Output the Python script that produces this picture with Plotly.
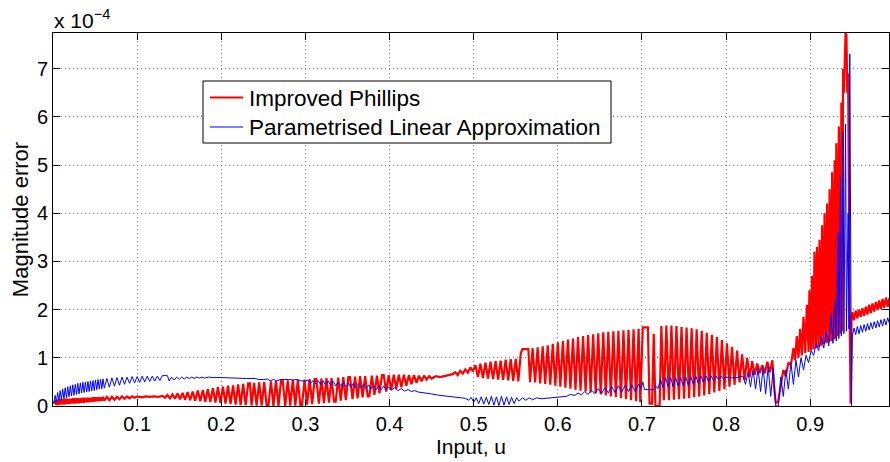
import plotly.graph_objects as go

# Magnitude error values are in units of 1e-4 (axis shows "x 10^-4")
red_name = "Improved Phillips"
blue_name = "Parametrised Linear Approximation"

red_points = [
    (0.001,0.05),(0.0025,0.12),(0.004,0.02),(0.0055,0.13),(0.007,0.02),(0.0085,0.14),(0.010,0.03),(0.0115,0.14),(0.013,0.03),(0.0145,0.15),
    (0.016,0.04),(0.0175,0.15),(0.019,0.04),(0.0205,0.15),(0.022,0.05),(0.0235,0.16),(0.025,0.05),(0.0265,0.16),(0.028,0.06),(0.0295,0.16),
    (0.031,0.06),(0.0325,0.16),(0.034,0.07),(0.0355,0.17),(0.037,0.07),(0.0385,0.17),(0.040,0.08),(0.0415,0.17),(0.043,0.08),(0.0445,0.17),
    (0.046,0.09),(0.0475,0.18),(0.049,0.09),(0.0505,0.18),(0.052,0.10),(0.0535,0.18),(0.055,0.10),(0.0565,0.18),(0.058,0.11),(0.0595,0.19),
    (0.061,0.11),(0.064,0.19),(0.067,0.12),(0.070,0.19),(0.073,0.13),(0.076,0.19),(0.079,0.14),(0.082,0.20),(0.085,0.15),(0.088,0.20),
    (0.091,0.16),(0.094,0.20),(0.097,0.17),(0.100,0.20),(0.105,0.18),(0.110,0.20),(0.115,0.19),(0.120,0.20),(0.125,0.19),(0.130,0.21),
    (0.133,0.17),(0.136,0.23),(0.139,0.16),(0.142,0.24),(0.145,0.15),(0.148,0.26),(0.151,0.14),(0.154,0.27),(0.157,0.13),(0.160,0.29),
    (0.163,0.12),(0.166,0.30),(0.169,0.11),(0.172,0.32),(0.175,0.10),(0.178,0.33),(0.181,0.09),(0.184,0.35),(0.187,0.08),(0.190,0.37),
    (0.193,0.07),(0.196,0.39),(0.199,0.06),(0.202,0.40),(0.205,0.05),(0.208,0.42),(0.211,0.04),(0.214,0.43),(0.217,0.03),
    (0.220,0.45),(0.223,0.02),(0.226,0.46),(0.229,0.02),(0.232,0.47),(0.234,0.47),(0.236,0.01),(0.239,0.48),(0.242,0.01),(0.245,0.49),
    (0.248,0.01),(0.251,0.50),(0.254,0.00),(0.256,0.00),(0.259,0.51),(0.262,0.00),(0.265,0.52),(0.268,0.00),(0.271,0.52),(0.273,0.52),
    (0.276,0.00),(0.279,0.53),(0.282,0.01),(0.285,0.54),(0.288,0.01),(0.291,0.54),(0.294,0.02),(0.296,0.02),(0.299,0.55),(0.302,0.03),
    (0.305,0.56),(0.308,0.04),(0.311,0.56),(0.313,0.56),(0.316,0.05),(0.319,0.57),(0.322,0.06),(0.325,0.58),(0.328,0.07),(0.331,0.58),
    (0.334,0.09),(0.336,0.09),(0.339,0.59),(0.342,0.11),(0.345,0.60),(0.348,0.12),(0.351,0.60),(0.353,0.60),(0.356,0.14),(0.359,0.61),
    (0.362,0.16),(0.365,0.62),(0.368,0.18),(0.371,0.62),(0.374,0.20),(0.376,0.20),(0.379,0.63),(0.382,0.23),(0.385,0.63),(0.388,0.26),
    (0.391,0.64),(0.393,0.64),(0.396,0.30),(0.399,0.64),(0.402,0.33),(0.405,0.65),(0.408,0.36),(0.411,0.65),(0.414,0.39),(0.417,0.65),
    (0.420,0.42),(0.423,0.64),(0.426,0.45),(0.429,0.64),(0.432,0.48),
    (0.435,0.63),(0.438,0.51),(0.441,0.63),(0.444,0.55),(0.447,0.62),(0.450,0.57),(0.455,0.62),(0.460,0.60),(0.465,0.62),(0.470,0.64),
    (0.475,0.66),(0.478,0.70),(0.481,0.64),(0.484,0.73),(0.487,0.67),(0.490,0.76),(0.493,0.69),(0.496,0.80),(0.499,0.72),(0.502,0.85),
    (0.505,0.60),(0.508,0.88),(0.511,0.58),(0.514,0.90),(0.517,0.57),(0.520,0.92),(0.523,0.56),(0.526,0.93),(0.529,0.55),(0.532,0.94),
    (0.535,0.54),(0.538,0.96),(0.541,0.53),(0.544,0.97),(0.547,0.52),(0.550,0.98),(0.553,0.51),(0.556,1.10),(0.558,1.18),(0.565,1.18),
    (0.567,0.50),(0.570,1.20),(0.573,0.49),(0.576,1.22),(0.579,0.47),(0.582,1.24),(0.585,0.46),(0.588,1.26),(0.591,0.44),(0.594,1.29),
    (0.597,0.42),(0.600,1.32),(0.603,0.40),(0.606,1.35),(0.609,0.38),(0.612,1.38),(0.615,0.36),(0.618,1.40),(0.621,0.34),(0.624,1.43),
    (0.627,0.32),(0.630,1.45),(0.633,0.30),(0.636,1.47),(0.639,0.28),(0.642,1.49),(0.645,0.26),(0.648,1.51),(0.651,0.24),(0.654,1.53),
    (0.657,0.22),(0.660,1.54),(0.663,0.20),(0.666,1.55),(0.669,0.18),(0.672,1.56),(0.675,0.16),(0.678,1.57),(0.681,0.14),(0.684,1.58),
    (0.687,0.12),(0.690,1.59),(0.693,0.10),(0.696,1.60),(0.698,0.08),
    (0.701,1.63),(0.707,1.63),(0.709,0.05),(0.712,0.05),(0.714,1.50),(0.716,0.00),(0.721,0.00),(0.723,1.66),(0.726,0.12),(0.729,1.67),
    (0.732,0.12),(0.735,1.67),(0.738,0.13),(0.741,1.66),(0.744,0.14),(0.747,1.64),(0.750,0.15),(0.753,1.63),(0.756,0.16),(0.759,1.61),
    (0.762,0.18),(0.765,1.59),(0.768,0.20),(0.771,1.56),(0.774,0.22),(0.777,1.52),(0.780,0.25),(0.783,1.48),(0.786,0.28),(0.789,1.43),
    (0.792,0.31),(0.795,1.37),(0.798,0.35),(0.801,1.30),(0.804,0.40),(0.807,1.23),(0.810,0.44),(0.813,1.15),(0.816,0.49),(0.819,1.07),
    (0.822,0.54),(0.825,1.00),(0.828,0.60),(0.831,0.93),(0.834,0.65),(0.837,0.88),(0.840,0.68),(0.843,0.85),(0.846,0.68),(0.849,0.92),
    (0.852,0.70),(0.855,0.95),(0.857,0.40),(0.859,0.06),(0.862,0.10),
    (0.865,0.45),(0.868,0.75),(0.871,0.62),(0.874,0.90),(0.877,0.85),(0.880,1.20),(0.882,0.95),(0.884,1.45),(0.886,1.00),(0.888,1.60),
    (0.890,1.05),(0.892,1.85),(0.894,1.10),(0.896,2.10),(0.898,1.12),(0.899,2.40),(0.901,1.15),(0.902,2.70),(0.904,1.18),(0.905,3.20),
    (0.907,1.20),(0.908,3.30),(0.910,1.22),(0.911,3.45),(0.913,1.25),(0.914,3.75),(0.916,1.28),(0.917,4.00),(0.919,1.30),(0.920,4.20),
    (0.922,1.32),(0.923,4.50),(0.925,1.35),(0.926,4.85),(0.928,1.38),(0.929,5.10),(0.930,1.40),(0.931,5.45),(0.933,1.45),(0.934,5.80),
    (0.936,1.50),(0.937,6.30),(0.938,1.55),(0.939,7.00),(0.940,6.50),(0.941,7.60),(0.942,7.75),(0.943,7.70),(0.944,6.50),(0.945,6.90),
    (0.946,3.00),(0.947,1.60),(0.948,0.05),(0.949,1.80),
    (0.950,1.95),(0.952,1.78),(0.954,1.98),(0.956,1.82),(0.958,2.00),(0.960,1.85),(0.962,2.03),(0.964,1.87),(0.966,2.06),(0.968,1.90),
    (0.970,2.10),(0.972,1.93),(0.974,2.13),(0.976,1.96),(0.978,2.16),(0.980,1.99),(0.982,2.19),(0.984,2.01),(0.986,2.22),(0.988,2.04),
    (0.990,2.25),(0.992,2.06),(0.994,2.24),
]

blue_points = [
    (0.001,0.05),(0.0025,0.22),(0.004,0.08),(0.0055,0.28),(0.007,0.10),(0.0085,0.32),(0.010,0.13),(0.0115,0.35),(0.013,0.15),(0.0145,0.38),
    (0.016,0.17),(0.0175,0.40),(0.019,0.19),(0.0205,0.42),(0.022,0.21),(0.0235,0.44),(0.025,0.22),(0.0265,0.45),(0.028,0.24),(0.0295,0.47),
    (0.031,0.25),(0.0325,0.48),(0.034,0.27),(0.0355,0.49),(0.037,0.28),(0.0385,0.50),(0.040,0.29),(0.0415,0.51),(0.043,0.30),(0.0445,0.52),
    (0.046,0.31),(0.0475,0.53),(0.049,0.32),(0.0505,0.54),(0.052,0.34),(0.0535,0.55),(0.055,0.35),(0.0565,0.55),(0.058,0.36),(0.0595,0.56),
    (0.061,0.37),(0.064,0.57),(0.067,0.39),(0.070,0.58),(0.073,0.41),(0.076,0.59),(0.079,0.43),(0.082,0.60),(0.085,0.45),(0.088,0.60),
    (0.091,0.47),(0.094,0.61),(0.097,0.48),(0.100,0.61),(0.103,0.49),(0.106,0.62),(0.109,0.50),(0.112,0.62),(0.115,0.51),(0.118,0.62),
    (0.121,0.52),(0.124,0.62),(0.127,0.53),
    (0.130,0.63),(0.136,0.63),(0.138,0.52),(0.141,0.60),(0.144,0.54),(0.147,0.60),(0.150,0.55),(0.153,0.60),(0.156,0.56),(0.159,0.60),
    (0.162,0.57),(0.165,0.60),(0.168,0.57),(0.171,0.60),(0.174,0.58),(0.177,0.60),(0.180,0.58),(0.185,0.60),(0.190,0.59),(0.200,0.59),
    (0.210,0.58),(0.220,0.58),(0.230,0.57),(0.240,0.57),(0.245,0.55),(0.250,0.55),(0.255,0.56),(0.258,0.52),(0.262,0.55),(0.266,0.52),
    (0.270,0.55),(0.280,0.55),(0.285,0.54),(0.290,0.55),(0.295,0.52),(0.300,0.52),
    (0.303,0.54),(0.306,0.47),(0.309,0.53),(0.312,0.46),(0.315,0.53),(0.318,0.45),(0.321,0.52),(0.324,0.44),(0.327,0.52),(0.330,0.43),
    (0.333,0.51),(0.336,0.42),(0.339,0.50),(0.342,0.41),(0.345,0.49),(0.348,0.40),(0.351,0.48),(0.354,0.39),(0.357,0.47),(0.360,0.38),
    (0.363,0.46),(0.366,0.37),(0.369,0.45),(0.372,0.36),(0.375,0.44),(0.378,0.35),(0.381,0.43),(0.384,0.34),(0.387,0.42),(0.390,0.34),
    (0.393,0.41),(0.396,0.33),(0.399,0.40),(0.402,0.33),(0.406,0.38),(0.410,0.32),(0.414,0.36),(0.418,0.31),(0.422,0.34),(0.426,0.30),
    (0.430,0.32),(0.434,0.29),(0.440,0.28),(0.450,0.25),(0.460,0.22),(0.470,0.20),(0.480,0.18),(0.490,0.16),(0.494,0.12),(0.497,0.18),
    (0.500,0.08),(0.503,0.17),(0.506,0.05),(0.509,0.19),(0.512,0.04),(0.515,0.18),(0.518,0.03),(0.521,0.20),(0.524,0.02),(0.527,0.19),
    (0.530,0.01),(0.533,0.20),(0.536,0.02),(0.539,0.19),(0.542,0.03),(0.545,0.18),(0.548,0.05),(0.551,0.17),(0.554,0.10),(0.558,0.17),
    (0.562,0.12),(0.566,0.17),(0.570,0.13),(0.575,0.17),(0.580,0.15),(0.590,0.17),(0.600,0.18),(0.610,0.20),(0.615,0.24),(0.620,0.22),
    (0.624,0.27),(0.628,0.23),(0.632,0.30),(0.636,0.24),(0.640,0.33),(0.644,0.26),(0.648,0.36),(0.652,0.26),(0.656,0.38),(0.660,0.27),
    (0.664,0.40),(0.668,0.28),(0.672,0.42),(0.676,0.29),(0.680,0.43),(0.684,0.30),(0.688,0.44),(0.692,0.30),(0.696,0.45),(0.699,0.36),
    (0.701,0.50),(0.703,0.34),(0.714,0.34),(0.716,0.42),(0.719,0.36),(0.722,0.55),(0.725,0.38),(0.728,0.60),(0.731,0.40),(0.734,0.60),
    (0.737,0.40),(0.740,0.59),(0.743,0.41),(0.746,0.59),(0.749,0.42),(0.752,0.60),(0.755,0.43),(0.758,0.61),(0.761,0.45),(0.764,0.62),
    (0.767,0.47),(0.770,0.63),(0.773,0.49),(0.776,0.63),(0.779,0.51),(0.782,0.63),(0.785,0.53),(0.788,0.62),(0.791,0.55),(0.794,0.62),
    (0.797,0.56),(0.800,0.60),(0.810,0.58),(0.820,0.62),(0.823,0.45),(0.826,0.70),(0.829,0.40),(0.832,0.75),(0.835,0.35),(0.838,0.78),
    (0.841,0.30),(0.844,0.80),(0.847,0.25),(0.850,0.82),(0.853,0.20),(0.856,0.78),(0.859,0.00),(0.862,0.00),(0.865,0.60),(0.868,0.20),
    (0.871,0.75),(0.874,0.35),(0.877,0.90),(0.880,0.45),(0.883,0.95),(0.886,0.60),(0.889,1.00),(0.892,0.75),(0.895,1.05),(0.898,0.90),
    (0.901,1.15),(0.904,1.05),(0.907,1.30),(0.910,1.15),(0.913,1.45),(0.916,1.20),(0.919,1.55),(0.922,1.25),(0.925,1.90),(0.927,1.30),
    (0.929,2.20),(0.931,1.35),(0.933,3.60),(0.934,1.40),(0.936,4.75),(0.937,1.45),(0.939,5.70),(0.940,1.50),(0.942,5.85),(0.943,1.55),
    (0.945,4.00),(0.946,1.60),(0.947,7.30),(0.948,3.00),(0.949,0.00),(0.950,1.45),(0.952,1.62),(0.954,1.48),(0.956,1.65),(0.958,1.50),
    (0.960,1.67),(0.962,1.53),(0.964,1.69),(0.966,1.55),(0.968,1.71),(0.970,1.58),(0.972,1.73),(0.974,1.60),(0.976,1.75),(0.978,1.62),
    (0.980,1.77),(0.982,1.64),(0.984,1.79),(0.986,1.66),(0.988,1.81),(0.990,1.68),(0.992,1.83),(0.994,1.72),
]

x_ticks = [0.1, 0.2, 0.3, 0.4, 0.5, 0.6, 0.7, 0.8, 0.9]
x_tick_labels = ["0.1", "0.2", "0.3", "0.4", "0.5", "0.6", "0.7", "0.8", "0.9"]
y_ticks = [0, 1, 2, 3, 4, 5, 6, 7]
y_tick_labels = ["0", "1", "2", "3", "4", "5", "6", "7"]

red_u = [p[0] for p in red_points]
red_v = [p[1] for p in red_points]
blue_u = [p[0] for p in blue_points]
blue_v = [p[1] for p in blue_points]

FONT = "Liberation Sans, Arial, Helvetica, sans-serif"
RED = "#ff0000"
BLUE = "#0000ff"

fig = go.Figure()
fig.add_trace(go.Scatter(x=red_u, y=red_v, mode="lines", name=red_name,
                         line=dict(color=RED, width=2.2), showlegend=False))
fig.add_trace(go.Scatter(x=blue_u, y=blue_v, mode="lines", name=blue_name,
                         line=dict(color=BLUE, width=1), showlegend=False))

axis_common = dict(
    showline=True, linecolor="#000000", linewidth=1, mirror="ticks",
    ticks="inside", ticklen=7, tickcolor="#000000", tickwidth=1,
    showgrid=True, gridcolor="#8a8a8a", gridwidth=1, griddash="1px,3px",
    zeroline=False, tickfont=dict(family=FONT, size=20, color="#000000"),
)

fig.update_xaxes(range=[0, 0.9936], tickvals=x_ticks, ticktext=x_tick_labels,
                 title=dict(text="Input, u", font=dict(family=FONT, size=21, color="#000000"), standoff=1),
                 **axis_common)
fig.update_yaxes(range=[0, 7.74], tickvals=y_ticks, ticktext=y_tick_labels,
                 title=dict(text="Magnitude error", font=dict(family=FONT, size=22, color="#000000"), standoff=2),
                 **axis_common)

fig.add_annotation(xref="paper", yref="paper", x=0.0, y=1.0, xanchor="left", yanchor="bottom",
                   text="x 10<sup>\u22124</sup>", showarrow=False, xshift=-1, yshift=-1,
                   font=dict(family=FONT, size=21, color="#000000"))

# Legend drawn as a box with sample lines and labels (positions in plot-area pixels)
L, T, W, H = 53.0, 33.0, 836.0, 373.0
def px(x):
    return (x - L) / W
def py(y):
    return (T + H - y) / H

fig.add_shape(type="rect", xref="paper", yref="paper",
              x0=px(203), x1=px(611), y0=py(143), y1=py(81),
              line=dict(color="#000000", width=1), fillcolor="#ffffff", layer="above")
legend_rows = [(red_name, RED, 2, 97.5), (blue_name, BLUE, 1, 127.0)]
for label, color, width, yc in legend_rows:
    fig.add_shape(type="line", xref="paper", yref="paper",
                  x0=px(210), x1=px(243), y0=py(yc), y1=py(yc),
                  line=dict(color=color, width=width), layer="above")
    fig.add_annotation(xref="paper", yref="paper", x=px(247), y=py(yc + 0.5),
                       xanchor="left", yanchor="middle", text=label, showarrow=False,
                       font=dict(family=FONT, size=22.5, color="#000000"))

fig.update_layout(
    width=890, height=462,
    margin=dict(l=53, r=1, t=33, b=56),
    paper_bgcolor="#ffffff", plot_bgcolor="#ffffff",
    font=dict(family=FONT, size=20, color="#000000"),
    showlegend=False,
)

fig.write_html("out.html")
